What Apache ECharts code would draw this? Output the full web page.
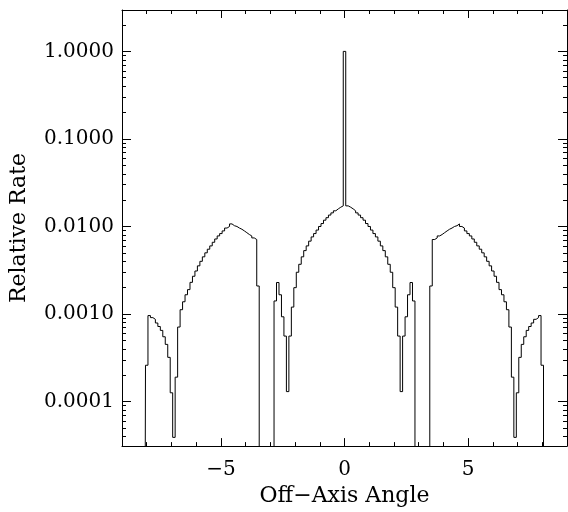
<!DOCTYPE html>
<html><head><meta charset="utf-8">
<script src="https://cdn.jsdelivr.net/npm/echarts@6/dist/echarts.min.js"></script>
<style>html,body{margin:0;padding:0;background:#fff}#c{width:568px;height:512px}</style>
</head><body><div id="c"></div>
<script>
// Histogram bins: centres from binStart in steps of binWidth
const binStart = -9.0;
const binWidth = 0.1;
// Relative rate per bin (0 = empty bin), left to right from -9.0 to 9.0
const rate = [
  0,0,0,0,0,0,0,0,0,0,
  0.00026,0.00096,0.00091,0.00087,0.00079,0.00072,0.00065,0.00055,0.00045,0.00032,
  0.000126,0.000039,0.00019,0.00071,0.00112,0.00138,0.00166,0.0019,0.0023,0.0027,
  0.0031,0.00355,0.0040,0.0045,0.0050,0.0055,0.0060,0.0066,0.0072,0.0078,
  0.0083,0.0089,0.0096,0.0100,0.0107,0.0102,0.0100,0.0096,0.0093,0.0089,
  0.0085,0.0081,0.0078,0.0074,0.0071,0.00209,0,0,0,0,
  0,0,0.00141,0.00229,0.00166,0.00093,0.00056,0.00013,0.00056,0.0012,
  0.0020,0.0030,0.0037,0.0045,0.0053,0.0060,0.0068,0.0076,0.0083,0.0091,
  0.0100,0.0108,0.0118,0.0126,0.0135,0.0143,0.0151,0.0159,0.0166,0.0172,
  1.0,
  0.0172,0.0166,0.0159,0.0151,0.0143,0.0135,0.0126,0.0118,0.0108,0.0100,
  0.0091,0.0083,0.0076,0.0068,0.0060,0.0053,0.0045,0.0037,0.0030,0.0020,
  0.0012,0.00056,0.00013,0.00056,0.00093,0.00166,0.00229,0.00141,0,0,
  0,0,0,0,0.00209,0.0071,0.0074,0.0078,0.0081,0.0085,
  0.0089,0.0093,0.0096,0.0100,0.0102,0.0107,0.0100,0.0096,0.0089,0.0083,
  0.0078,0.0072,0.0066,0.0060,0.0055,0.0050,0.0045,0.0040,0.00355,0.0031,
  0.0027,0.0023,0.0019,0.00166,0.00138,0.00112,0.00071,0.00019,0.000039,0.000126,
  0.00032,0.00045,0.00055,0.00065,0.00072,0.00079,0.00087,0.00091,0.00096,0.00026,
  0,0,0,0,0,0,0,0,0,0
];
const xMajorTicks = [-5, 0, 5];
const xMinorTicks = [-8,-7,-6,-4,-3,-2,-1,1,2,3,4,6,7,8];
const yMajorTicks = [0.0001, 0.001, 0.01, 0.1, 1];
const yMinorTicks = [
  4e-5,5e-5,6e-5,7e-5,8e-5,9e-5,
  2e-4,3e-4,4e-4,5e-4,6e-4,7e-4,8e-4,9e-4,
  2e-3,3e-3,4e-3,5e-3,6e-3,7e-3,8e-3,9e-3,
  0.02,0.03,0.04,0.05,0.06,0.07,0.08,0.09,
  0.2,0.3,0.4,0.5,0.6,0.7,0.8,0.9,
  2
];
const xMin = -9, xMax = 9;
const yMin = 3.1e-5, yMax = 2.97;
const EMPTY = 1e-9; // empty bins drawn below the axis floor

const data = rate.map((v, i) => [+(binStart + i * binWidth).toFixed(1), v > 0 ? v : EMPTY]);

const font = 'DejaVu Serif';
const black = '#000';
function xAx(pos, ticks, len, main, showLine) {
  return {
    type: 'value', position: pos, min: xMin, max: xMax,
    axisLine: { show: showLine, onZero: false, lineStyle: { color: black, width: 1 } },
    axisTick: { show: true, inside: true, length: len, customValues: ticks, lineStyle: { color: black, width: 1 } },
    axisLabel: main ? { show: true, customValues: ticks, margin: 14, color: black, fontFamily: font, fontSize: 20,
      formatter: v => String(v).replace('-', '\u2212') } : { show: false },
    splitLine: { show: false },
    name: main ? 'Off\u2212Axis Angle' : '', nameLocation: 'middle', nameGap: 32,
    nameTextStyle: { color: black, fontFamily: font, fontSize: 22 }
  };
}
function yAx(pos, ticks, len, main, showLine) {
  return {
    type: 'log', logBase: 10, position: pos, min: yMin, max: yMax,
    axisLine: { show: showLine, onZero: false, lineStyle: { color: black, width: 1 } },
    axisTick: { show: true, inside: true, length: len, customValues: ticks, lineStyle: { color: black, width: 1 } },
    axisLabel: main ? { show: true, customValues: ticks, margin: 8, color: black, fontFamily: font, fontSize: 20,
      formatter: v => Number(v).toFixed(4) } : { show: false },
    splitLine: { show: false }, minorTick: { show: false },
    name: main ? 'Relative Rate' : '', nameLocation: 'middle', nameGap: 92,
    nameTextStyle: { color: black, fontFamily: font, fontSize: 22 }
  };
}

const chart = echarts.init(document.getElementById('c'), null, { renderer: 'canvas' });
chart.setOption({
  animation: false,
  backgroundColor: '#fff',
  grid: { left: 122, right: 1, top: 10, bottom: 59, containLabel: false },
  xAxis: [
    xAx('bottom', xMajorTicks, 8, true, true),
    xAx('bottom', xMinorTicks, 4, false, false),
    xAx('top', xMajorTicks, 8, false, true),
    xAx('top', xMinorTicks, 4, false, false)
  ],
  yAxis: [
    yAx('left', yMajorTicks, 9, true, true),
    yAx('left', yMinorTicks, 4, false, false),
    yAx('right', yMajorTicks, 9, false, true),
    yAx('right', yMinorTicks, 4, false, false)
  ],
  series: [{
    type: 'line', xAxisIndex: 0, yAxisIndex: 0, step: 'middle', symbol: 'none',
    clip: true, lineStyle: { color: black, width: 1 }, data: data
  }]
});
</script></body></html>
